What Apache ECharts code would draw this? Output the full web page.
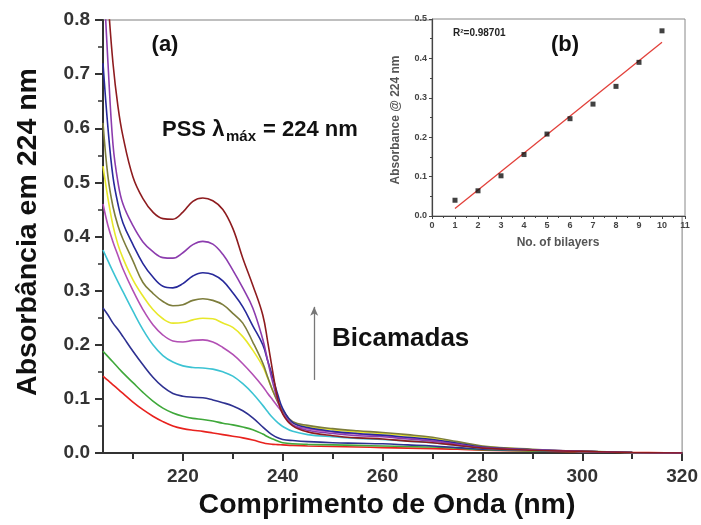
<!DOCTYPE html>
<html>
<head>
<meta charset="utf-8">
<script src="https://cdn.jsdelivr.net/npm/echarts@6/dist/echarts.min.js"></script>
<style>
  html, body { margin: 0; padding: 0; background: #fff; }
  #chart { width: 701px; height: 525px; }
</style>
</head>
<body>
<div id="chart"></div>
<script>
// wavelengths (nm) for the spectra
const wavelengths = [204, 205, 206, 207, 208, 210, 212, 214, 216, 218, 220, 222, 224, 226, 228, 230, 232, 234, 236, 237, 238, 239, 240, 242, 245, 250, 255, 260, 265, 270, 275, 280, 290, 300, 310, 320]

// absorbance of each bilayer count, 1 -> 10
const abs1 = [0.142, 0.134, 0.126, 0.118, 0.11, 0.094, 0.08, 0.068, 0.058, 0.05, 0.045, 0.042, 0.04, 0.037, 0.034, 0.031, 0.028, 0.024, 0.019, 0.017, 0.016, 0.0155, 0.015, 0.014, 0.013, 0.012, 0.011, 0.01, 0.009, 0.008, 0.007, 0.005, 0.004, 0.002, 0.001, 0]
const abs2 = [0.188, 0.178, 0.168, 0.158, 0.148, 0.13, 0.112, 0.096, 0.083, 0.074, 0.068, 0.064, 0.062, 0.059, 0.055, 0.052, 0.048, 0.043, 0.035, 0.03, 0.026, 0.022, 0.019, 0.017, 0.016, 0.015, 0.014, 0.013, 0.012, 0.011, 0.009, 0.006, 0.004, 0.003, 0.001, 0]
const abs3 = [0.268, 0.255, 0.24, 0.228, 0.215, 0.188, 0.163, 0.14, 0.122, 0.11, 0.105, 0.103, 0.102, 0.098, 0.093, 0.087, 0.078, 0.065, 0.048, 0.04, 0.033, 0.028, 0.025, 0.023, 0.021, 0.019, 0.018, 0.017, 0.015, 0.013, 0.01, 0.007, 0.005, 0.003, 0.001, 0]
const abs4 = [0.375, 0.355, 0.335, 0.316, 0.298, 0.262, 0.228, 0.2, 0.18, 0.168, 0.161, 0.158, 0.157, 0.155, 0.15, 0.142, 0.128, 0.11, 0.088, 0.076, 0.065, 0.056, 0.049, 0.04, 0.034, 0.03, 0.027, 0.025, 0.022, 0.019, 0.014, 0.009, 0.005, 0.003, 0.001, 0]
const abs5 = [0.46, 0.42, 0.39, 0.365, 0.34, 0.3, 0.265, 0.237, 0.218, 0.207, 0.205, 0.208, 0.209, 0.205, 0.195, 0.182, 0.165, 0.145, 0.123, 0.11, 0.098, 0.086, 0.074, 0.052, 0.045, 0.039, 0.035, 0.032, 0.028, 0.024, 0.017, 0.011, 0.006, 0.003, 0.001, 0]
const abs6 = [0.53, 0.47, 0.42, 0.385, 0.36, 0.32, 0.29, 0.265, 0.248, 0.24, 0.241, 0.246, 0.249, 0.248, 0.24, 0.232, 0.215, 0.19, 0.16, 0.138, 0.115, 0.096, 0.08, 0.056, 0.049, 0.043, 0.039, 0.036, 0.032, 0.027, 0.019, 0.012, 0.006, 0.003, 0.001, 0]
const abs7 = [0.61, 0.51, 0.455, 0.42, 0.395, 0.355, 0.315, 0.295, 0.28, 0.272, 0.274, 0.282, 0.285, 0.282, 0.274, 0.258, 0.24, 0.205, 0.166, 0.14, 0.115, 0.094, 0.078, 0.058, 0.051, 0.045, 0.041, 0.038, 0.034, 0.029, 0.021, 0.013, 0.007, 0.003, 0.001, 0]
const abs8 = [0.72, 0.6, 0.51, 0.46, 0.425, 0.385, 0.35, 0.325, 0.308, 0.305, 0.313, 0.327, 0.333, 0.33, 0.318, 0.296, 0.27, 0.235, 0.2, 0.17, 0.14, 0.108, 0.082, 0.056, 0.047, 0.04, 0.036, 0.033, 0.029, 0.025, 0.018, 0.011, 0.006, 0.003, 0.001, 0]
const abs9 = [0.9, 0.72, 0.57, 0.5, 0.46, 0.42, 0.39, 0.372, 0.361, 0.36, 0.37, 0.385, 0.391, 0.386, 0.367, 0.338, 0.305, 0.268, 0.21, 0.17, 0.13, 0.097, 0.074, 0.052, 0.042, 0.036, 0.032, 0.03, 0.026, 0.022, 0.016, 0.01, 0.006, 0.003, 0.001, 0]
const abs10 = [1.0, 0.84, 0.72, 0.64, 0.585, 0.51, 0.47, 0.445, 0.433, 0.432, 0.445, 0.465, 0.471, 0.466, 0.45, 0.415, 0.36, 0.31, 0.255, 0.205, 0.15, 0.1, 0.072, 0.05, 0.039, 0.032, 0.028, 0.026, 0.022, 0.019, 0.014, 0.009, 0.005, 0.003, 0.001, 0]

const spectra = [abs1, abs2, abs3, abs4, abs5, abs6, abs7, abs8, abs9, abs10]
const spectraColors = ['#e8221e', '#3fa83a', '#2e3191', '#3cc3d3', '#b24fb4', '#e8e82a', '#7d7d3c', '#27299a', '#8c3cae', '#8e1c1f']

// main x axis ticks
const xMajorTicks = [220, 240, 260, 280, 300, 320]
const xMinorTicks = [210, 230, 250, 270, 290, 310]

// inset (b): absorbance at 224 nm vs bilayers
const bilayers = [1, 2, 3, 4, 5, 6, 7, 8, 9, 10]
const abs224 = [0.040, 0.064, 0.102, 0.156, 0.208, 0.247, 0.284, 0.329, 0.390, 0.470]
const fitX = [1, 10]
const fitY = [0.019, 0.441]

// "Bicamadas" arrow, in data units
const arrowX = 246.3
const arrowY = [0.135, 0.27]

const FONT = '"Liberation Sans", Arial, Helvetica, sans-serif'
const chart = echarts.init(document.getElementById('chart'))

const zip = (xs, ys) => xs.map((x, i) => [x, ys[i]])

const text = (t, x, y, size, opts = {}) => ({
  type: 'text',
  x, y,
  rotation: opts.rotation || 0,
  silent: true,
  style: {
    text: t,
    x: 0, y: 0,
    font: `bold ${size}px ${FONT}`,
    fill: opts.color || '#111',
    align: opts.align || 'left',
    textAlign: opts.align || 'left',
    verticalAlign: 'middle',
    textVerticalAlign: 'middle'
  }
})

const series = spectra.map((vals, i) => ({
  type: 'line',
  xAxisIndex: 0,
  yAxisIndex: 0,
  data: zip(wavelengths, vals),
  showSymbol: false,
  smooth: 0.4,
  clip: true,
  lineStyle: { color: spectraColors[i], width: 1.6 },
  itemStyle: { color: spectraColors[i] },
  z: 2 + i
}))

series.push({
  type: 'line',
  xAxisIndex: 0,
  yAxisIndex: 0,
  data: [],
  markLine: {
    silent: true,
    symbol: ['none', 'arrow'],
    symbolSize: [6, 9],
    label: { show: false },
    lineStyle: { color: '#777', width: 1.3, type: 'solid' },
    data: [[{ coord: [arrowX, arrowY[0]] }, { coord: [arrowX, arrowY[1]] }]]
  }
})

series.push({
  type: 'line',
  xAxisIndex: 2,
  yAxisIndex: 1,
  data: zip(fitX, fitY),
  showSymbol: false,
  lineStyle: { color: '#e2403a', width: 1.3 },
  z: 3
})

series.push({
  type: 'scatter',
  xAxisIndex: 2,
  yAxisIndex: 1,
  data: zip(bilayers, abs224),
  symbol: 'rect',
  symbolSize: 5,
  itemStyle: { color: '#111' },
  z: 4
})

chart.setOption({
  backgroundColor: '#fff',
  animation: false,
  grid: [
    { left: 103, right: 16, top: 20, bottom: 72, show: true, borderColor: '#aaa', borderWidth: 1.5, backgroundColor: 'transparent' },
    { left: 432, right: 16, top: 19, bottom: 309, show: true, borderColor: '#888', borderWidth: 1, backgroundColor: '#fff' }
  ],
  xAxis: [
    {
      gridIndex: 0,
      type: 'value',
      min: 204,
      max: 320,
      axisLine: { show: true, onZero: false, lineStyle: { color: '#333', width: 2 } },
      axisTick: { show: true, length: 8, customValues: xMajorTicks, lineStyle: { color: '#333', width: 2 } },
      axisLabel: { customValues: xMajorTicks, margin: 14, fontSize: 19, fontWeight: 'bold', color: '#333', fontFamily: FONT },
      splitLine: { show: false }
    },
    {
      gridIndex: 0,
      type: 'value',
      position: 'bottom',
      min: 204,
      max: 320,
      axisLine: { show: false },
      axisTick: { show: true, length: 6, customValues: xMinorTicks, lineStyle: { color: '#333', width: 2 } },
      axisLabel: { show: false },
      splitLine: { show: false }
    },
    {
      gridIndex: 1,
      type: 'value',
      min: 0,
      max: 11,
      interval: 1,
      axisLine: { show: true, onZero: false, lineStyle: { color: '#444', width: 1.2 } },
      axisTick: { show: true, length: 3, lineStyle: { color: '#444' } },
      minorTick: { show: true, splitNumber: 2, length: 2, lineStyle: { color: '#444' } },
      axisLabel: { margin: 5, fontSize: 9, fontWeight: 'bold', color: '#444', fontFamily: FONT },
      splitLine: { show: false }
    }
  ],
  yAxis: [
    {
      gridIndex: 0,
      type: 'value',
      min: 0,
      max: 0.8,
      interval: 0.1,
      axisLine: { show: true, onZero: false, lineStyle: { color: '#333', width: 2 } },
      axisTick: { show: true, length: 8, lineStyle: { color: '#333', width: 2 } },
      minorTick: { show: true, splitNumber: 2, length: 5, lineStyle: { color: '#333', width: 1.5 } },
      axisLabel: { margin: 13, fontSize: 19, fontWeight: 'bold', color: '#333', fontFamily: FONT, formatter: v => v.toFixed(1) },
      splitLine: { show: false }
    },
    {
      gridIndex: 1,
      type: 'value',
      min: 0,
      max: 0.5,
      interval: 0.1,
      axisLine: { show: true, onZero: false, lineStyle: { color: '#444', width: 1.2 } },
      axisTick: { show: true, length: 3, lineStyle: { color: '#444' } },
      minorTick: { show: true, splitNumber: 2, length: 2, lineStyle: { color: '#444' } },
      axisLabel: { margin: 5, fontSize: 9, fontWeight: 'bold', color: '#444', fontFamily: FONT, formatter: v => v.toFixed(1) },
      splitLine: { show: false }
    }
  ],
  series,
  graphic: [
    text('(a)', 165, 45, 22, { align: 'center' }),
    text('PSS λ', 162, 130, 22),
    text('máx', 226, 137, 15),
    text('= 224 nm', 263, 130, 22),
    text('Bicamadas', 332, 339, 26),
    text('Absorbância em 224 nm', 28, 232, 28.5, { rotation: Math.PI / 2, align: 'center' }),
    text('Comprimento de Onda (nm)', 387, 505, 28.5, { align: 'center' }),
    text('Absorbance @ 224 nm', 396, 120, 12, { rotation: Math.PI / 2, align: 'center', color: '#555' }),
    text('No. of bilayers', 558, 243, 12, { align: 'center', color: '#555' }),
    text('R²=0.98701', 453, 33, 10, { color: '#222' }),
    text('(b)', 565, 45, 22, { align: 'center' })
  ]
})
</script>
</body>
</html>
